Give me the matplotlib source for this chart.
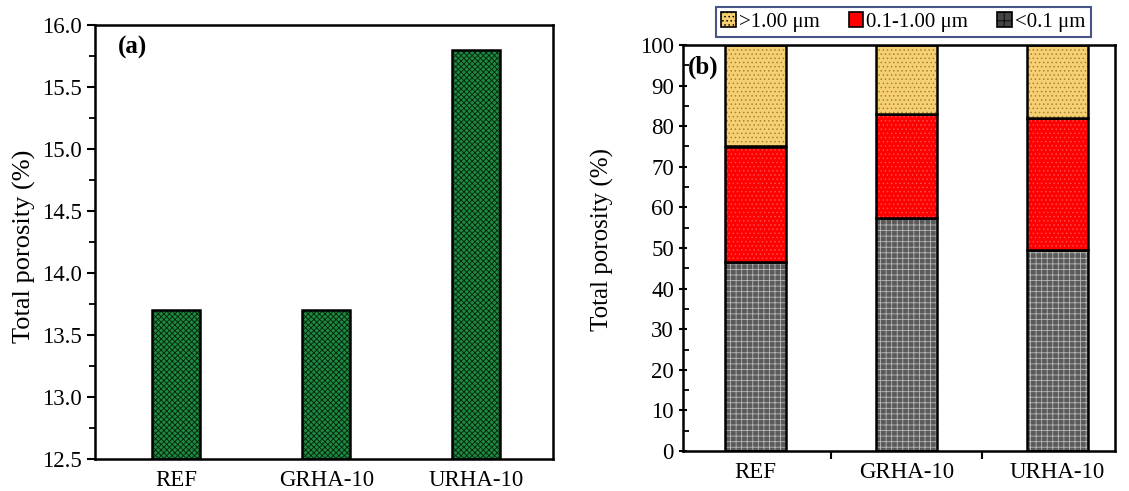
import matplotlib.pyplot as plt
from matplotlib.ticker import MultipleLocator, FixedLocator

plt.rcParams["font.family"] = ["Liberation Serif", "DejaVu Serif"]
plt.rcParams["hatch.linewidth"] = 0.6

mixes = ["REF", "GRHA-10", "URHA-10"]
total_porosity = [13.7, 13.7, 15.8]

# pore size distribution (%)
fine = [46.5, 57.5, 49.5]      # <0.1 um
medium = [28.5, 25.5, 32.5]    # 0.1-1.00 um
coarse = [25.0, 17.0, 18.0]    # >1.00 um

fig = plt.figure(figsize=(11.29, 4.91), dpi=100)
ax1 = fig.add_axes([95 / 1129, 1 - 459 / 491, 458 / 1129, 434 / 491])
ax2 = fig.add_axes([683 / 1129, 1 - 451 / 491, 432 / 1129, 406 / 491])

x = list(range(len(mixes)))


def hatched_bar(ax, xs, h, w, bottom, face, hatch, hcolor):
    ax.bar(xs, h, w, bottom=bottom, color=face, hatch=hatch,
           edgecolor=hcolor, linewidth=0)
    ax.bar(xs, h, w, bottom=bottom, fill=False, edgecolor="black",
           linewidth=1.8)


# (a) total porosity
hatched_bar(ax1, x, [v - 12.5 for v in total_porosity], 0.32, 12.5,
            "#1c8a40", "xxxxxx", "#06200c")
ax1.set_ylim(12.5, 16.0)
ax1.set_xlim(-0.54, 2.51)
ax1.yaxis.set_major_locator(MultipleLocator(0.5))
ax1.yaxis.set_minor_locator(MultipleLocator(0.25))
ax1.set_xticks(x)
ax1.set_xticklabels(mixes)
ax1.tick_params(axis="x", which="major", length=0, pad=8)
ax1.tick_params(axis="y", which="major", length=6, width=1.5, direction="out")
ax1.tick_params(axis="y", which="minor", length=4, width=1.3, direction="out")
ax1.set_ylabel("Total porosity (%)", fontsize=19)
ax1.yaxis.set_label_coords(-0.129, 0.491)
ax1.text(0.05, 0.975, "(a)", transform=ax1.transAxes, fontsize=18,
         fontweight="bold", va="top")

# (b) pore size distribution
hatched_bar(ax2, x, fine, 0.4, 0, "#5a5a5a", "+++", "#b8b8b8")
hatched_bar(ax2, x, medium, 0.4, fine, "#ff0000", "....", "#ff4a4a")
bot = [a + b for a, b in zip(fine, medium)]
hatched_bar(ax2, x, coarse, 0.4, bot, "#f7d074", "....", "#a88530")
ax2.bar([0], [0], 0, color="#f7d074", hatch="....", edgecolor="black",
        linewidth=1.2, label=">1.00 μm")
ax2.bar([0], [0], 0, color="#ff0000", edgecolor="black",
        linewidth=1.2, label="0.1-1.00 μm")
ax2.bar([0], [0], 0, color="#444444", hatch="++", edgecolor="black",
        linewidth=1.2, label="<0.1 μm")
ax2.set_ylim(0, 100)
ax2.set_xlim(-0.48, 2.38)
ax2.yaxis.set_major_locator(MultipleLocator(10))
ax2.yaxis.set_minor_locator(MultipleLocator(5))
# tick marks between groups, labels under the bars
ax2.xaxis.set_major_locator(FixedLocator([0.5, 1.5]))
ax2.xaxis.set_minor_locator(FixedLocator(x))
ax2.set_xticklabels(["", ""])
ax2.set_xticklabels(mixes, minor=True)
ax2.tick_params(axis="x", which="major", length=6, width=1.5, direction="out")
ax2.tick_params(axis="x", which="minor", length=0, pad=8, labelsize=16.5)
ax2.tick_params(axis="y", which="major", length=6, width=1.5,
                direction="inout")
ax2.tick_params(axis="y", which="minor", length=4, width=1.3, direction="in")
ax2.set_ylabel("Total porosity (%)", fontsize=18)
ax2.yaxis.set_label_coords(-0.16, 0.52)
ax2.text(0.012, 0.975, "(b)", transform=ax2.transAxes, fontsize=18,
         fontweight="bold", va="top")
leg = ax2.legend(loc="lower center", bbox_to_anchor=(0.51, 1.02), ncol=3,
                 fontsize=15, frameon=True, fancybox=False,
                 handlelength=0.7, handleheight=0.7, handletextpad=0.15,
                 columnspacing=1.4, borderpad=0.25, borderaxespad=0)
leg.get_frame().set_edgecolor("#1a2a6a")
leg.get_frame().set_linewidth(1.5)

for ax in (ax1, ax2):
    for s in ax.spines.values():
        s.set_linewidth(1.8)
    ax.tick_params(axis="both", which="major", labelsize=16.5)

fig.savefig("out.png", dpi=100)
